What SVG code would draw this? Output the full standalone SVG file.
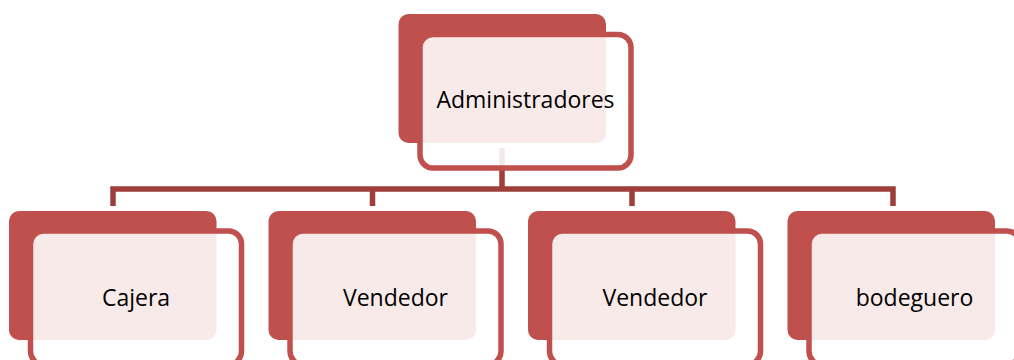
<svg xmlns="http://www.w3.org/2000/svg" width="1014" height="360" viewBox="0 0 1014 360">
<style>
.back{fill:#C0504D}
.front{fill:#FFFFFF;fill-opacity:0.88;stroke:#C0504D;stroke-width:5.5}
.conn{fill:none;stroke:#9E3F3C;stroke-width:5.5}
.lbl{font-family:"Open Sans","Noto Sans",sans-serif;font-size:23px;fill:#000;text-anchor:middle}
</style>
<rect width="1014" height="360" fill="#FFFFFF"/>
<g id="connectors">
<path class="conn" d="M502,148 V189 M113,206 V189 H893 V206 M372.5,189 V206 M632,189 V206"/>
</g>
<g id="node-administradores">
<rect class="back" x="398.5" y="14" width="207.5" height="129" rx="10"/>
<rect class="front" x="420" y="34.5" width="211" height="133.5" rx="13"/>
<text class="lbl" x="525.5" y="108">Administradores</text>
</g>
<g id="node-cajera">
<rect class="back" x="9" y="211" width="207.5" height="129" rx="10"/>
<rect class="front" x="30.5" y="231" width="211" height="133.5" rx="13"/>
<text class="lbl" x="136" y="306">Cajera</text>
</g>
<g id="node-vendedor1">
<rect class="back" x="268.5" y="211" width="207.5" height="129" rx="10"/>
<rect class="front" x="290" y="231" width="211" height="133.5" rx="13"/>
<text class="lbl" x="395.5" y="306">Vendedor</text>
</g>
<g id="node-vendedor2">
<rect class="back" x="528" y="211" width="207.5" height="129" rx="10"/>
<rect class="front" x="549.5" y="231" width="211" height="133.5" rx="13"/>
<text class="lbl" x="655" y="306">Vendedor</text>
</g>
<g id="node-bodeguero">
<rect class="back" x="787.5" y="211" width="207.5" height="129" rx="10"/>
<rect class="front" x="809" y="231" width="211" height="133.5" rx="13"/>
<text class="lbl" x="914.5" y="306">bodeguero</text>
</g>
</svg>
